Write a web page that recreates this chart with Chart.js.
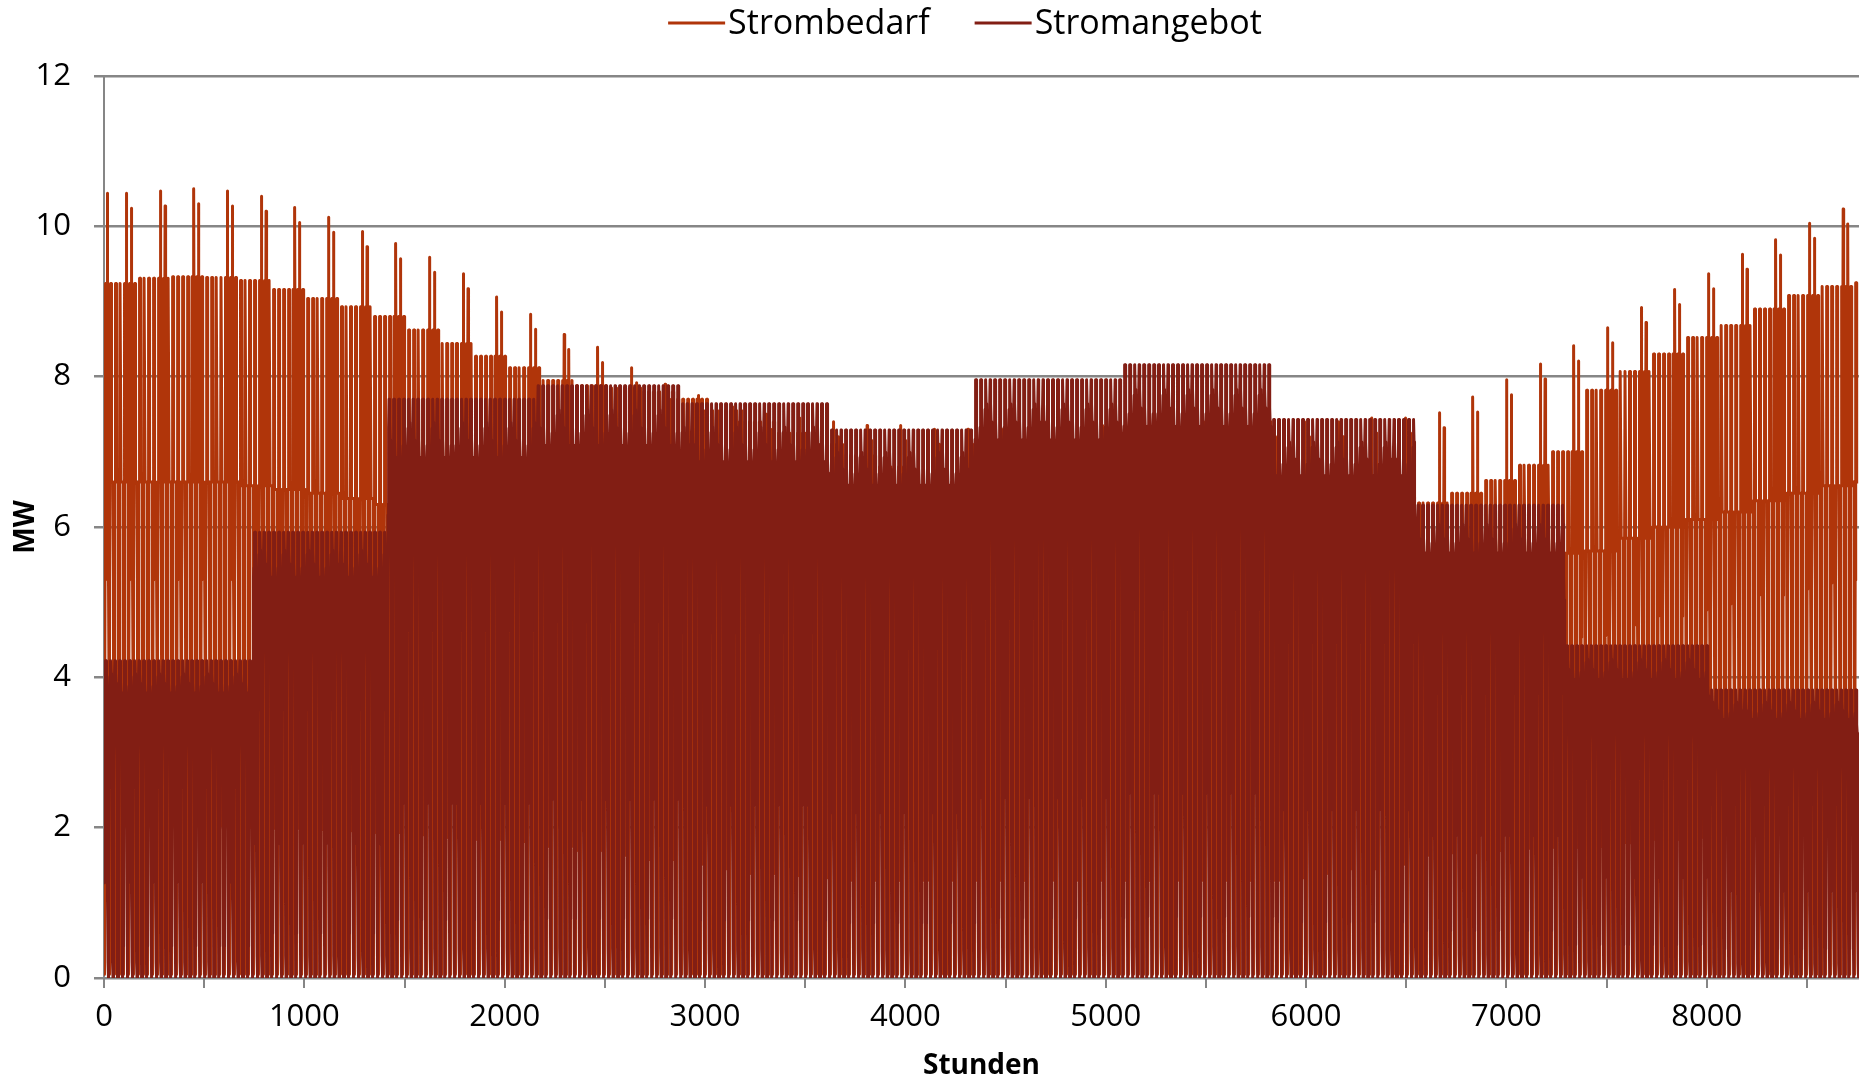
<!DOCTYPE html>
<html>
<head>
    <meta charset="utf-8">
    <title>Strombedarf und Stromangebot</title>
    <script src="https://cdn.jsdelivr.net/npm/chart.js"></script>
    <style>
        body {
            margin: 0;
            background: #fff;
        }
        .chart-container {
            position: relative;
            width: 1859px;
            height: 1080px;
        }
    </style>
</head>
<body>
    <div class="chart-container">
        <canvas id="myChart"></canvas>
    </div>

    <script>
        const seriesNames = ['Strombedarf', 'Stromangebot'];
        const xTitle = 'Stunden';
        const yTitle = 'MW';

        // tick marks every 500 h, labels every 1000 h
        const xTickValues = [0, 500, 1000, 1500, 2000, 2500, 3000, 3500, 4000, 4500, 5000, 5500, 6000, 6500, 7000, 7500, 8000, 8500];
        const xTickLabels = [0, 1000, 2000, 3000, 4000, 5000, 6000, 7000, 8000];

        // hours per month (Jan..Dec)
        const monthHours = [744, 672, 744, 720, 744, 720, 744, 744, 720, 744, 720, 744];

        // supply plateau per month, MW
        const supplyPlateau = [4.22, 5.93, 7.70, 7.88, 7.64, 7.29, 7.96, 8.16, 7.43, 6.29, 4.42, 3.83];

        // demand, read week by week (53 weeks)
        const demandTop = [
            9.24, 9.31, 9.33, 9.32, 9.28, 9.16, 9.04, 8.93, 8.80, 8.62, 8.44, 8.27, 8.12,
            7.95, 7.88, 7.85, 7.80, 7.70, 7.55, 7.40, 7.25, 7.10, 6.95, 6.80, 6.70, 6.60,
            6.50, 6.45, 6.40, 6.40, 6.40, 6.40, 6.40, 6.45, 6.50, 6.50, 6.50, 6.45, 6.40,
            6.32, 6.45, 6.62, 6.82, 7.00, 7.82, 8.07, 8.30, 8.52, 8.68, 8.90, 9.08, 9.20, 9.25
        ];
        const demandSpike = [
            10.44, 10.47, 10.50, 10.47, 10.40, 10.25, 10.12, 9.93, 9.77, 9.59, 9.37, 9.06, 8.83,
            8.56, 8.39, 8.12, 7.90, 7.75, 7.60, 7.50, 7.45, 7.40, 7.35, 7.35, 7.30, 7.30,
            7.30, 7.30, 7.30, 7.35, 7.35, 7.35, 7.40, 7.40, 7.40, 7.40, 7.40, 7.45, 7.45,
            7.52, 7.73, 7.96, 8.17, 8.41, 8.65, 8.92, 9.16, 9.37, 9.63, 9.82, 10.04, 10.23, 10.44
        ];
        const demandShoulder = [
            6.60, 6.60, 6.60, 6.60, 6.55, 6.50, 6.45, 6.38, 6.30, 6.20, 6.10, 6.00, 5.90,
            5.70, 5.50, 5.30, 5.10, 4.90, 4.70, 4.50, 4.40, 4.30, 4.20, 4.20, 4.20, 4.20,
            4.20, 4.20, 4.20, 4.20, 4.20, 4.20, 4.20, 4.20, 4.20, 4.30, 4.50, 4.70, 4.90,
            5.30, 5.40, 5.50, 5.60, 5.65, 5.68, 5.85, 6.00, 6.10, 6.20, 6.35, 6.45, 6.55, 6.60
        ];
        const nightLoad = 0.05;

        // daily shapes: 0 = night load, 1 = shoulder, 2 = daily top, 3 = evening spike
        const workdayShape = [1, 0.6, 0.1, 0, 0.3, 0.8, 1, 1, 2, 2, 2, 2, 2, 1, 1, 1, 1, 1, 1, 1, 1, 1, 1, 1];
        const peakDayShape = [1, 0.6, 0.1, 0, 0.3, 0.8, 1, 1, 2, 2, 2, 2, 1.6, 1, 1, 1, 1.5, 3, 1.5, 1, 1, 1, 1, 1];
        // supply as share of the monthly plateau
        const supplyShape = [0.3, 0.6, 0.8, 0.87, 0.9, 0.92, 0.95, 1, 1, 1, 1, 0.96, 0.93, 0.9, 0.88, 0.85, 0.8, 0.7, 0.5, 0.25, 0.05, 0, 0, 0.1];

        const peakDays = [4, 5];   // day of week with the evening spikes
        const holidays = [0];      // day of year

        const demandLevel = (level, low, mid, top, spike) => {
            if (level <= 1) return low + level * (mid - low);
            if (level <= 2) return mid + (level - 1) * (top - mid);
            return top + (level - 2) * (spike - top);
        };

        const demand = [];
        const supply = [];
        let hour = 0;
        monthHours.forEach((n, m) => {
            for (let i = 0; i < n; i++, hour++) {
                const day = Math.floor(hour / 24);
                const h = hour % 24;
                const week = Math.floor(day / 7);
                const dow = day % 7;
                const isPeak = peakDays.includes(dow) || holidays.includes(day);
                const spike = demandSpike[week] - (dow === peakDays[1] ? 0.2 : 0);
                const shape = isPeak ? peakDayShape : workdayShape;
                demand.push({
                    x: hour,
                    y: demandLevel(shape[h], nightLoad, demandShoulder[week], demandTop[week], spike)
                });
                supply.push({ x: hour, y: supplyPlateau[m] * supplyShape[h] });
            }
        });

        const colors = ['#B0350A', '#821E14'];
        const fontFamily = '"Open Sans", "DejaVu Sans", sans-serif';

        // Excel-like legend: short line followed directly by the label
        const lineLegend = {
            id: 'lineLegend',
            afterDraw(chart) {
                const ctx = chart.ctx;
                ctx.save();
                ctx.font = '34px ' + fontFamily;
                ctx.textBaseline = 'middle';
                ctx.textAlign = 'left';
                const lineLen = 57, gap = 3, between = 45, y = 23;
                const items = chart.data.datasets.map(ds => ({ ds, w: ctx.measureText(ds.label).width }));
                const total = items.reduce((s, it) => s + lineLen + gap + it.w, 0) + between * (items.length - 1);
                let x = 965 - total / 2;
                items.forEach(it => {
                    ctx.strokeStyle = it.ds.borderColor;
                    ctx.lineWidth = 3;
                    ctx.beginPath();
                    ctx.moveTo(x, y);
                    ctx.lineTo(x + lineLen, y);
                    ctx.stroke();
                    ctx.fillStyle = '#000';
                    ctx.fillText(it.ds.label, x + lineLen + gap, y + 1);
                    x += lineLen + gap + it.w + between;
                });
                ctx.restore();
            }
        };

        window.addEventListener('load', function() {
            const ctx = document.getElementById('myChart');
            new Chart(ctx, {
                type: 'line',
                data: {
                    datasets: [{
                        label: seriesNames[0],
                        data: demand,
                        borderColor: colors[0],
                        backgroundColor: colors[0],
                        borderWidth: 3,
                        borderJoinStyle: 'round',
                        pointRadius: 0,
                        tension: 0,
                        order: 1
                    }, {
                        label: seriesNames[1],
                        data: supply,
                        borderColor: colors[1],
                        backgroundColor: colors[1],
                        borderWidth: 3,
                        borderJoinStyle: 'round',
                        pointRadius: 0,
                        tension: 0,
                        order: 0
                    }]
                },
                options: {
                    animation: false,
                    responsive: true,
                    maintainAspectRatio: false,
                    parsing: false,
                    normalized: true,
                    events: [],
                    layout: {
                        padding: { top: 76, right: 0, bottom: 0, left: 0 }
                    },
                    plugins: {
                        legend: { display: false },
                        tooltip: { enabled: false }
                    },
                    scales: {
                        x: {
                            type: 'linear',
                            min: 0,
                            max: 8760,
                            afterFit: s => { s.height = 102; },
                            afterBuildTicks: s => { s.ticks = xTickValues.map(v => ({ value: v })); },
                            ticks: {
                                autoSkip: false,
                                maxRotation: 0,
                                padding: 11,
                                color: '#000',
                                font: { family: fontFamily, size: 31 },
                                callback: v => (xTickLabels.includes(v) ? String(v) : '')
                            },
                            grid: {
                                drawOnChartArea: false,
                                tickLength: 10,
                                color: '#868686',
                                lineWidth: 2
                            },
                            border: { color: '#868686', width: 2 },
                            title: {
                                display: true,
                                text: xTitle,
                                color: '#000',
                                font: { family: fontFamily, size: 28, weight: 'bold', lineHeight: 1 },
                                padding: { top: 0, bottom: 0 }
                            }
                        },
                        y: {
                            min: 0,
                            max: 12,
                            afterFit: s => { s.width = 104; },
                            ticks: {
                                stepSize: 2,
                                padding: 23,
                                color: '#000',
                                font: { family: fontFamily, size: 31 }
                            },
                            grid: {
                                color: '#868686',
                                lineWidth: 2.5,
                                tickLength: 10
                            },
                            border: { color: '#868686', width: 2 },
                            title: {
                                display: true,
                                text: yTitle,
                                color: '#000',
                                font: { family: fontFamily, size: 28, weight: 'bold', lineHeight: 1 },
                                padding: { top: 12, bottom: 0 }
                            }
                        }
                    }
                },
                plugins: [lineLegend]
            });
        });
    </script>
</body>
</html>
